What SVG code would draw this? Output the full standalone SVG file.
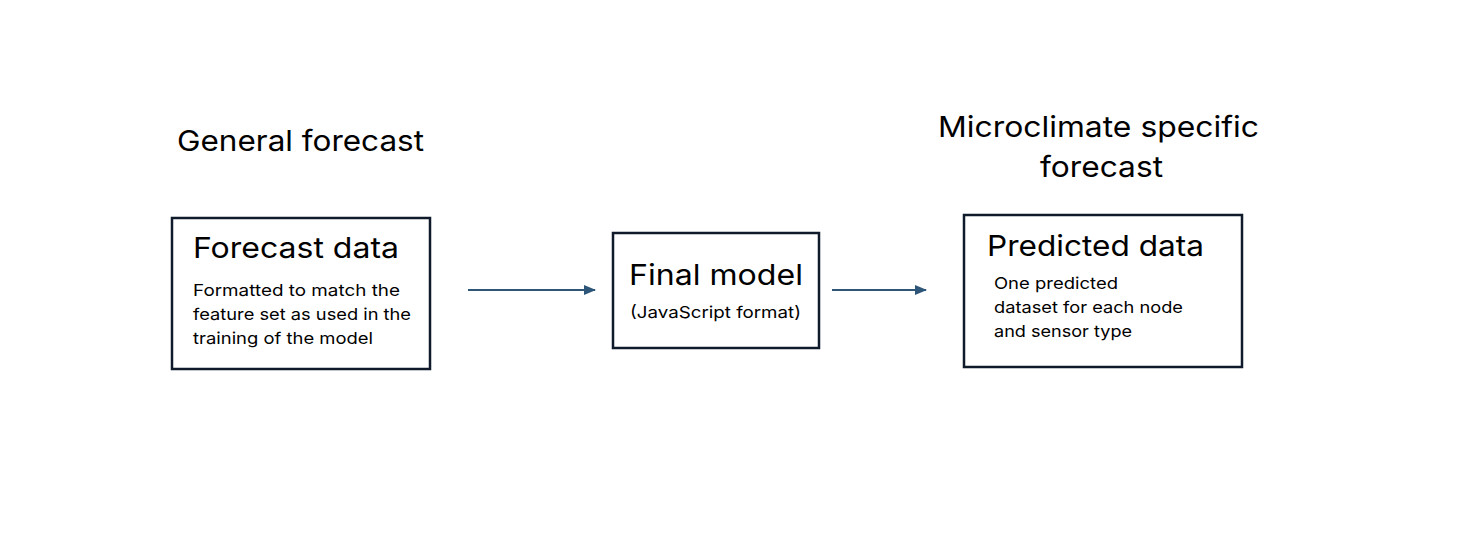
<svg xmlns="http://www.w3.org/2000/svg" width="1463" height="544" viewBox="0 0 1463 544">
<style>
.box{fill:#fff;stroke:#0f1b2b;stroke-width:2.5}
.t{font-family:Inter,"Liberation Sans",sans-serif;fill:#000}
.h{font-size:29px}
.s{font-size:16.5px}
.c{stroke:#2e5678;stroke-width:2.2;fill:none}
</style>
<defs>
<marker id="ah" markerWidth="12" markerHeight="10" refX="11" refY="5" orient="auto" markerUnits="userSpaceOnUse">
<path d="M0,0 L12,5 L0,10 Z" fill="#2e5678"/>
</marker>
</defs>
<rect width="1463" height="544" fill="#fff"/>
<text class="t h" x="177" y="151" textLength="247" lengthAdjust="spacingAndGlyphs">General forecast</text>
<text class="t h" x="938" y="137" textLength="321" lengthAdjust="spacingAndGlyphs">Microclimate specific</text>
<text class="t h" x="1040" y="177" textLength="123" lengthAdjust="spacingAndGlyphs">forecast</text>
<g id="connectors">
<line class="c" x1="468" y1="290" x2="595" y2="290" marker-end="url(#ah)"/>
<line class="c" x1="832" y1="290" x2="926" y2="290" marker-end="url(#ah)"/>
</g>
<g id="forecast-data">
<rect class="box" x="172" y="218" width="258" height="151"/>
<text class="t h" x="193" y="258" textLength="206" lengthAdjust="spacingAndGlyphs">Forecast data</text>
<text class="t s" x="193" y="296" textLength="207" lengthAdjust="spacingAndGlyphs">Formatted to match the</text>
<text class="t s" x="193" y="320" textLength="218" lengthAdjust="spacingAndGlyphs">feature set as used in the</text>
<text class="t s" x="193" y="344" textLength="180" lengthAdjust="spacingAndGlyphs">training of the model</text>
</g>
<g id="final-model">
<rect class="box" x="613" y="233" width="206" height="115"/>
<text class="t h" x="629" y="285" textLength="174" lengthAdjust="spacingAndGlyphs">Final model</text>
<text class="t s" x="630" y="318" textLength="171" lengthAdjust="spacingAndGlyphs">(JavaScript format)</text>
</g>
<g id="predicted-data">
<rect class="box" x="964" y="215" width="278" height="152"/>
<text class="t h" x="987" y="256" textLength="217" lengthAdjust="spacingAndGlyphs">Predicted data</text>
<text class="t s" x="994" y="289" textLength="124" lengthAdjust="spacingAndGlyphs">One predicted</text>
<text class="t s" x="994" y="313" textLength="189" lengthAdjust="spacingAndGlyphs">dataset for each node</text>
<text class="t s" x="994" y="337" textLength="138" lengthAdjust="spacingAndGlyphs">and sensor type</text>
</g>
</svg>
